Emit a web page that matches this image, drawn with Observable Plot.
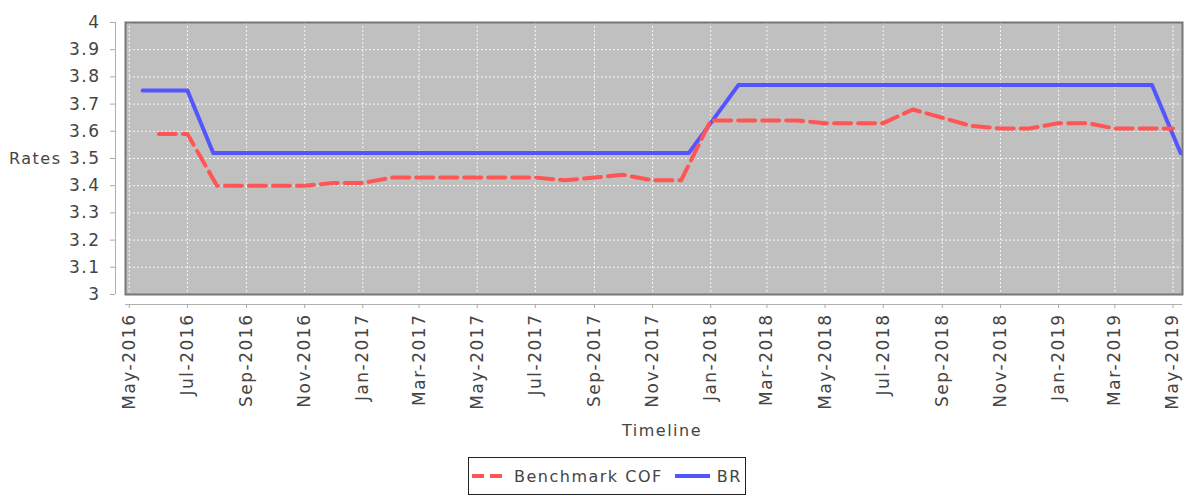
<!DOCTYPE html>
<html>
<head>
<meta charset="utf-8">
<script src="https://cdn.jsdelivr.net/npm/d3@7"></script>
<script src="https://cdn.jsdelivr.net/npm/@observablehq/plot@0.6"></script>
<style>
  html, body { margin: 0; padding: 0; background: #fff; }
  #wrap { position: relative; width: 1196px; height: 496px; font-family: "DejaVu Sans", sans-serif; color: #444; }
  #legend {
    position: absolute; left: 468px; top: 457px; width: 278px; height: 38px;
    box-sizing: border-box; border: 1px solid #222; background: #fff;
    display: flex; align-items: center; font-size: 16px; letter-spacing: 1.5px; color: #444;
    white-space: nowrap;
  }
  #legend svg { display: block; }
</style>
</head>
<body>
<div id="wrap">
  <div id="chart"></div>
  <div id="legend"></div>
</div>
<script>
// ---- data ----
const seriesNames = ["Benchmark COF", "BR"];
const seriesColors = ["#ff5555", "#5555ff"];

const cofDates = [
  "2016-06-01","2016-07-01","2016-08-01","2016-09-01","2016-10-01","2016-11-01","2016-12-01",
  "2017-01-01","2017-02-01","2017-03-01","2017-04-01","2017-05-01","2017-06-01","2017-07-01",
  "2017-08-01","2017-09-01","2017-10-01","2017-11-01","2017-12-01",
  "2018-01-01","2018-02-01","2018-03-01","2018-04-01","2018-05-01","2018-06-01","2018-07-01",
  "2018-08-01","2018-09-01","2018-10-01","2018-11-01","2018-12-01",
  "2019-01-01","2019-02-01","2019-03-01","2019-04-01","2019-05-01"
];
const cofValues = [
  3.59, 3.59, 3.40, 3.40, 3.40, 3.40, 3.41,
  3.41, 3.43, 3.43, 3.43, 3.43, 3.43, 3.43,
  3.42, 3.43, 3.44, 3.42, 3.42,
  3.64, 3.64, 3.64, 3.64, 3.63, 3.63, 3.63,
  3.68, 3.65, 3.62, 3.61, 3.61,
  3.63, 3.63, 3.61, 3.61, 3.61
];

const brDates = ["2016-05-15","2016-07-01","2016-07-28","2017-12-09","2018-01-30","2019-04-09","2019-05-09"];
const brValues = [3.75, 3.75, 3.52, 3.52, 3.77, 3.77, 3.52];

const xTickDates = [
  "2016-05-01","2016-07-01","2016-09-01","2016-11-01",
  "2017-01-01","2017-03-01","2017-05-01","2017-07-01","2017-09-01","2017-11-01",
  "2018-01-01","2018-03-01","2018-05-01","2018-07-01","2018-09-01","2018-11-01",
  "2019-01-01","2019-03-01","2019-05-01"
];
const yTicks = [3, 3.1, 3.2, 3.3, 3.4, 3.5, 3.6, 3.7, 3.8, 3.9, 4];
const xDomain = ["2016-04-27", "2019-05-11"];
const yDomain = [3, 4];
const xTitle = "Timeline";
const yTitle = "Rates";

// ---- build ----
const parse = s => new Date(s + "T00:00:00Z");
const cof = cofDates.map((d, i) => ({date: parse(d), value: cofValues[i]}));
const br = brDates.map((d, i) => ({date: parse(d), value: brValues[i]}));
const xt = xTickDates.map(parse);
const xd = xDomain.map(parse);
const fmtX = d3.utcFormat("%b-%Y");
const fmtY = d => Number.isInteger(d) ? String(d) : d.toFixed(1);

const chart = Plot.plot({
  width: 1196,
  height: 440,
  marginLeft: 125,
  marginRight: 14,
  marginTop: 22,
  marginBottom: 146,
  style: {fontFamily: "DejaVu Sans, sans-serif", fontSize: "16px", letterSpacing: "1.5px", color: "#444", background: "#fff"},
  x: {type: "utc", domain: xd},
  y: {domain: yDomain},
  marks: [
    Plot.frame({fill: "#c0c0c0"}),
    Plot.gridX(xt, {stroke: "#fff", strokeOpacity: 0.85, strokeDasharray: "2,2"}),
    Plot.gridY(yTicks, {stroke: "#fff", strokeOpacity: 0.85, strokeDasharray: "2,2"}),
    Plot.line(br, {x: "date", y: "value", stroke: seriesColors[1], strokeWidth: 4}),
    Plot.line(cof, {x: "date", y: "value", stroke: seriesColors[0], strokeWidth: 4, strokeDasharray: "17,7"}),
    Plot.frame({stroke: "#777", strokeWidth: 2}),
    Plot.ruleX([xd[0]], {dx: -10, stroke: "#b0b0b0"}),
    Plot.ruleY([yDomain[0]], {dy: 10, stroke: "#b0b0b0"}),
    Plot.axisY(yTicks, {anchor: "left", dx: -10, tickSize: 5, tickPadding: 10, tickFormat: fmtY,
      stroke: "#aaa", fill: "#444", fontSize: 17, letterSpacing: 0, label: null}),
    Plot.axisX(xt, {anchor: "bottom", dy: 10, tickSize: 4, tickPadding: 5, tickRotate: -90, tickFormat: fmtX,
      stroke: "#aaa", fill: "#444", fontSize: 17, letterSpacing: 1.3, label: null}),
    Plot.text([yTitle], {frameAnchor: "left", dx: -64, textAnchor: "end", fill: "#444", fontSize: 16}),
    Plot.text([xTitle], {frameAnchor: "bottom", dy: 141, dx: 8, fill: "#444", fontSize: 16})
  ]
});
document.getElementById("chart").appendChild(chart);

// ---- legend ----
const legend = document.getElementById("legend");
const items = [
  {name: seriesNames[0], color: seriesColors[0], dash: "12,6"},
  {name: seriesNames[1], color: seriesColors[1], dash: null}
];
items.forEach((it, i) => {
  const s = d3.create("svg").attr("width", 36).attr("height", 10).style("margin-left", (i === 0 ? 3 : 12) + "px").style("margin-right", "6px");
  s.append("line").attr("x1", 0).attr("x2", 35).attr("y1", 5).attr("y2", 5)
    .attr("stroke", it.color).attr("stroke-width", 4)
    .attr("stroke-dasharray", it.dash);
  legend.appendChild(s.node());
  const t = document.createElement("span");
  t.textContent = it.name;
  legend.appendChild(t);
});
</script>
</body>
</html>
